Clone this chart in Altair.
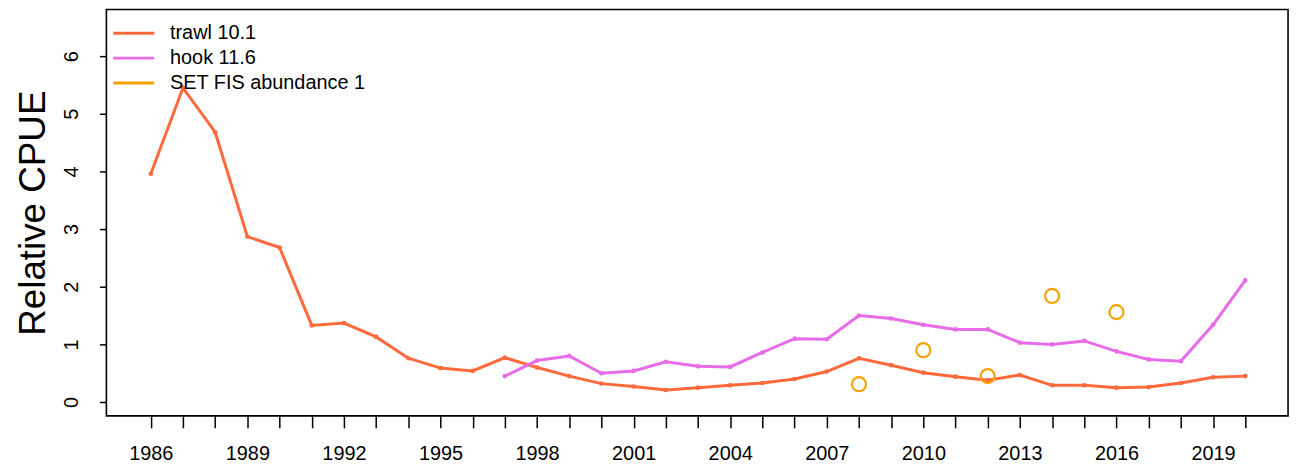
import altair as alt
import pandas as pd

years_trawl = list(range(1986, 2021))
trawl = [3.96, 5.45, 4.68, 2.87, 2.68, 1.33, 1.37, 1.13, 0.76, 0.59, 0.54,
         0.77, 0.60, 0.45, 0.32, 0.27, 0.21, 0.25, 0.29, 0.33, 0.40, 0.53,
         0.76, 0.64, 0.51, 0.44, 0.38, 0.47, 0.29, 0.29, 0.25, 0.26, 0.33,
         0.43, 0.45]

years_hook = list(range(1997, 2021))
hook = [0.45, 0.72, 0.80, 0.50, 0.54, 0.70, 0.62, 0.61, 0.86, 1.10, 1.09,
        1.50, 1.45, 1.34, 1.26, 1.26, 1.03, 1.00, 1.06, 0.88, 0.74, 0.71,
        1.34, 2.11]

years_set = [2008, 2010, 2012, 2014, 2016]
setfis = [0.31, 0.90, 0.45, 1.84, 1.56]

names = ["trawl 10.1", "hook 11.6", "SET FIS abundance 1"]
colors = ["#FF6A3D", "#E86BE8", "#F5A300"]

rows = []
for y, v in zip(years_trawl, trawl):
    rows.append({"year": y, "value": v, "series": names[0]})
for y, v in zip(years_hook, hook):
    rows.append({"year": y, "value": v, "series": names[1]})
for y, v in zip(years_set, setfis):
    rows.append({"year": y, "value": v, "series": names[2]})
df = pd.DataFrame(rows)

x_scale = alt.Scale(domain=[1984.62, 2021.33], nice=False, zero=False)
y_scale = alt.Scale(domain=[-0.24, 6.81], nice=False, zero=False)
color_scale = alt.Scale(domain=names, range=colors)

x_enc = alt.X("year:Q", scale=x_scale, title=None,
              axis=alt.Axis(values=list(range(1986, 2021)), format="d",
                            labelExpr="(datum.value - 1986) % 3 == 0 ? datum.label : ''",
                            labelOverlap=False, tickSize=12, tickColor="black",
                            labelPadding=16, labelFontSize=20))
y_enc = alt.Y("value:Q", scale=y_scale, title="Relative CPUE",
              axis=alt.Axis(values=[0, 1, 2, 3, 4, 5, 6], format="d",
                            tickSize=7, tickColor="black", labelAngle=-90, labelAlign="center",
                            labelBaseline="bottom", labelOverlap=False,
                            labelFontSize=20, labelPadding=18, titlePadding=9))
color_enc = alt.Color("series:N", scale=color_scale,
                      legend=alt.Legend(title=None, orient="none", legendX=5, legendY=14,
                                        symbolType="stroke", symbolSize=1700,
                                        symbolStrokeWidth=3, labelFontSize=20,
                                        labelFont="Liberation Sans", labelColor="black",
                                        labelOffset=14, rowPadding=5, padding=0,
                                        clipHeight=20, labelLimit=400))

base = alt.Chart(df)
lines = base.transform_filter(alt.datum.series != names[2]).mark_line(strokeWidth=3).encode(
    x=x_enc, y=y_enc, color=color_enc, detail="series:N")
dots = base.transform_filter(alt.datum.series != names[2]).mark_circle(size=22, opacity=1).encode(
    x=x_enc, y=y_enc, color=color_enc)
circles = base.transform_filter(alt.datum.series == names[2]).mark_point(
    shape="circle", size=200, strokeWidth=2.2, filled=False, opacity=1).encode(
    x=x_enc, y=y_enc, color=color_enc)

chart = alt.layer(lines, dots, circles).properties(
    width=1189, height=409,
    background="white",
    autosize=alt.AutoSizeParams(type="none"),
    padding={"left": 99, "top": 0, "right": 7, "bottom": 55},
).configure_view(
    stroke="black", strokeWidth=1.6, strokeOpacity=1
).configure_axis(
    domain=False, grid=False, ticks=True, tickWidth=1.5,
    labelColor="black", labelFont="Liberation Sans",
    titleFontSize=37, titleFont="Liberation Sans", titleFontWeight="normal",
    titleColor="black"
)

chart.save("out.html", embed_options={"renderer": "svg", "actions": False})
